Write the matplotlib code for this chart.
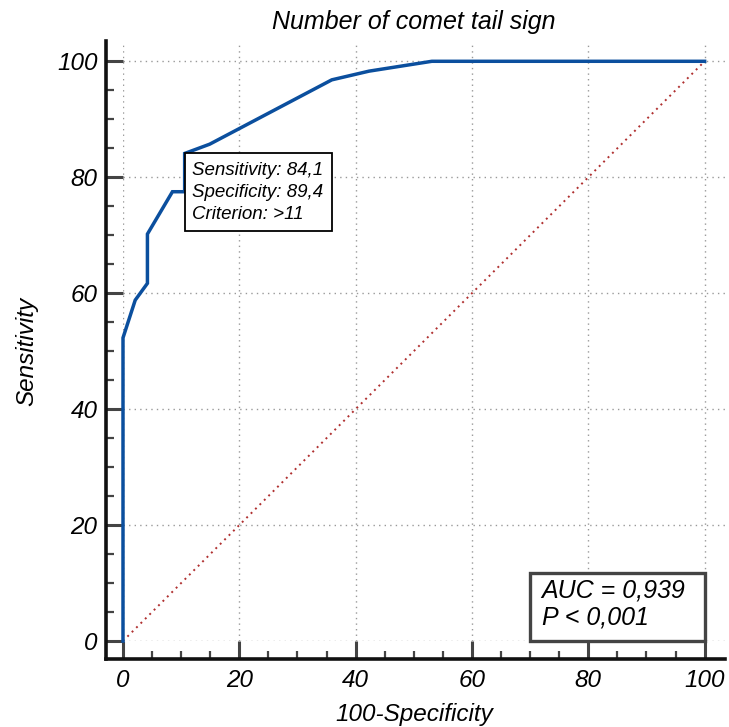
import matplotlib.pyplot as plt
import matplotlib.transforms as mtransforms
from matplotlib.patches import Rectangle

plt.rcParams['font.family'] = ['Liberation Sans', 'DejaVu Sans']
plt.rcParams['font.style'] = 'italic'

# ROC curve points (100-specificity, sensitivity)
fpr = [0, 0, 2.1, 4.2, 4.2, 8.5, 10.6, 10.6, 14.9, 35.9, 42.3, 53.1, 100]
tpr = [0, 52.3, 58.8, 61.7, 70.2, 77.5, 77.5, 84.1, 85.7, 96.8, 98.3, 100, 100]

# cut-off point shown in the annotation box
cut_fpr = 10.6
cut_tpr = 84.1
cut_spec = 89.4
criterion = '>11'

auc = 0.939
p_text = '< 0,001'

fig = plt.figure(figsize=(7.29, 7.27), dpi=100)
ax = fig.add_axes([123 / 729, 86 / 727, 602 / 729, 600 / 727])

ax.set_xlim(0, 103.5)
ax.set_ylim(0, 103.5)

ax.plot([0, 100], [0, 100], linestyle=(0, (1, 2.2)), color='#b03030', lw=1.4, zorder=2)
ax.plot(fpr, tpr, color='#0b4f9e', lw=2.5, solid_joinstyle='miter', clip_on=False, zorder=3)

# axis styling: spines pushed outward, ticks reaching the plot area
for side in ['top', 'right']:
    ax.spines[side].set_visible(False)
ax.spines['left'].set_position(('outward', 12.3))
ax.spines['bottom'].set_position(('outward', 13))
ax.spines['left'].set_bounds(-3.1, 103.5)
ax.spines['bottom'].set_bounds(-2.9, 103.5)
for side in ['left', 'bottom']:
    ax.spines[side].set_linewidth(2.6)
    ax.spines[side].set_color('#111111')

ax.set_xticks(range(0, 101, 20))
ax.set_yticks(range(0, 101, 20))
ax.set_xticks([v for v in range(5, 101, 5) if v % 20], minor=True)
ax.set_yticks([v for v in range(5, 101, 5) if v % 20], minor=True)
ax.tick_params(axis='x', which='major', direction='in', length=13, width=2.2,
               color='#444444', pad=7, labelsize=17.5)
ax.tick_params(axis='y', which='major', direction='in', length=12.3, width=2.2,
               color='#444444', pad=6, labelsize=17.5)
ax.tick_params(which='minor', direction='in', length=6, width=1.6, color='#444444')

ax.grid(True, which='major', linestyle=(0, (1, 3)), color='#999999', lw=1.0, zorder=0)

ax.set_title('Number of comet tail sign', fontsize=18, x=0.4834, pad=9)
ax.set_xlabel('100-Specificity', fontsize=17.5)
ax.set_ylabel('Sensitivity', fontsize=17.5)
ax.xaxis.set_label_coords(0.4834, -0.103)
ax.yaxis.set_label_coords(-0.14, 0.483)


def text_box(x, y, x0, y0, w, h, lines, baselines, size, ec, lw):
    # box sized in inches, anchored at data point (x, y)
    trans = fig.dpi_scale_trans + mtransforms.ScaledTranslation(x, y, ax.transData)
    ax.add_patch(Rectangle((x0, y0), w, h, transform=trans, fc='white', ec=ec,
                           lw=lw, clip_on=False, zorder=4))
    for line, yb in zip(lines, baselines):
        ax.text(x0 + 0.075 if size < 15 else x0 + 0.12, yb, line, transform=trans,
                fontsize=size, ha='left', va='baseline', zorder=5)


# cut-off box, its top-left corner sits on the curve point
cut_lines = [f'Sensitivity: {cut_tpr:.1f}'.replace('.', ','),
             f'Specificity: {cut_spec:.1f}'.replace('.', ','),
             f'Criterion: {criterion}']
text_box(cut_fpr, cut_tpr, 0, -0.775, 1.47, 0.775, cut_lines,
         [-0.215, -0.435, -0.655], 13.5, 'black', 1.3)

# AUC box in the lower right corner
auc_lines = [f'AUC = {auc:.3f}'.replace('.', ','), f'P {p_text}']
text_box(100, 0, -1.75, 0, 1.75, 0.68, auc_lines, [0.435, 0.16], 18, '#444444', 2.4)

fig.savefig('out.png', dpi=100)
